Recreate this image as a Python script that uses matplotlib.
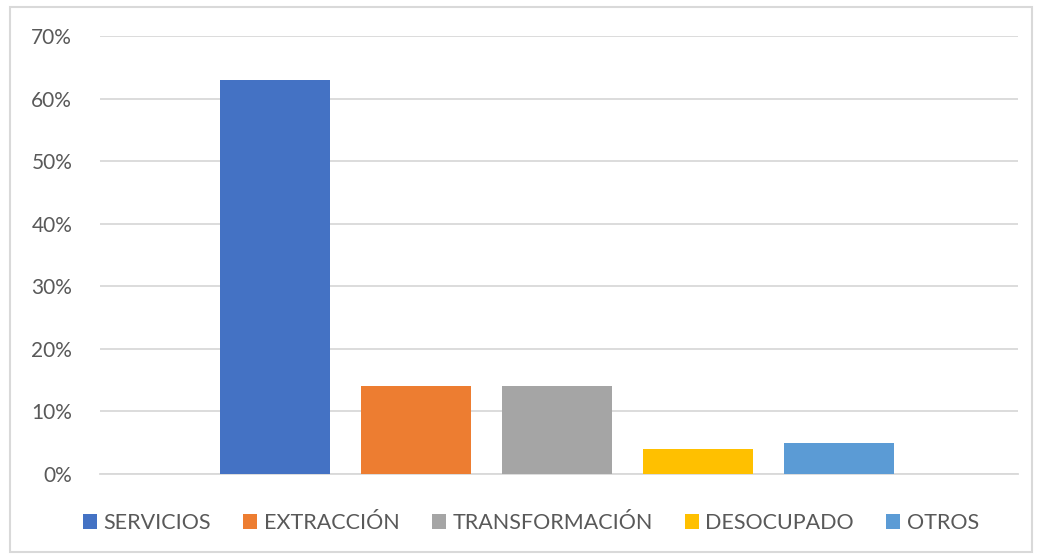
import matplotlib
matplotlib.use("Agg")
import matplotlib.pyplot as plt
from matplotlib.patches import Rectangle
from matplotlib.ticker import FuncFormatter

categories = ["SERVICIOS", "EXTRACCIÓN", "TRANSFORMACIÓN", "DESOCUPADO", "OTROS"]
values = [63, 14, 14, 4, 5]
colors = ["#4472C4", "#ED7D31", "#A5A5A5", "#FFC000", "#5B9BD5"]
yticks = [0, 10, 20, 30, 40, 50, 60, 70]

plt.rcParams['font.family'] = ['Lato', 'DejaVu Sans']

fig = plt.figure(figsize=(10.4, 5.55), dpi=100)
fig.patches.append(Rectangle((0.0095, 0.005), 0.983, 0.983, transform=fig.transFigure,
                             fill=False, edgecolor="#d9d9d9", linewidth=1.5))
ax = fig.add_axes([100/1040, 1-474/555, 918/1040, 438/555])

handles = []
for i, (c, v, col) in enumerate(zip(categories, values, colors)):
    h = ax.bar(i, v, width=0.78, color=col, label=c, zorder=3)
    handles.append(h)

ax.set_xlim(-1.241, 5.27)
ax.set_ylim(0, 70)
ax.set_yticks(yticks)
ax.yaxis.set_major_formatter(FuncFormatter(lambda v, p: f"{int(v)}%"))
ax.set_xticks([])
ax.grid(axis='y', color="#d9d9d9", linewidth=1.3, zorder=0)
for s in ["top", "right", "left"]:
    ax.spines[s].set_visible(False)
ax.spines["bottom"].set_color("#d9d9d9")
ax.spines["bottom"].set_linewidth(1.3)
ax.tick_params(axis='y', length=0, pad=20, labelsize=15, labelcolor="#595959")

leg = fig.legend(handles=handles, labels=categories, loc="center", ncol=5,
                 bbox_to_anchor=(531/1040, 1-523/555), frameon=False,
                 fontsize=15.5, handlelength=0.65, handleheight=0.65,
                 handletextpad=0.3, columnspacing=1.5, labelcolor="#595959")

fig.savefig("out.png", dpi=100)
